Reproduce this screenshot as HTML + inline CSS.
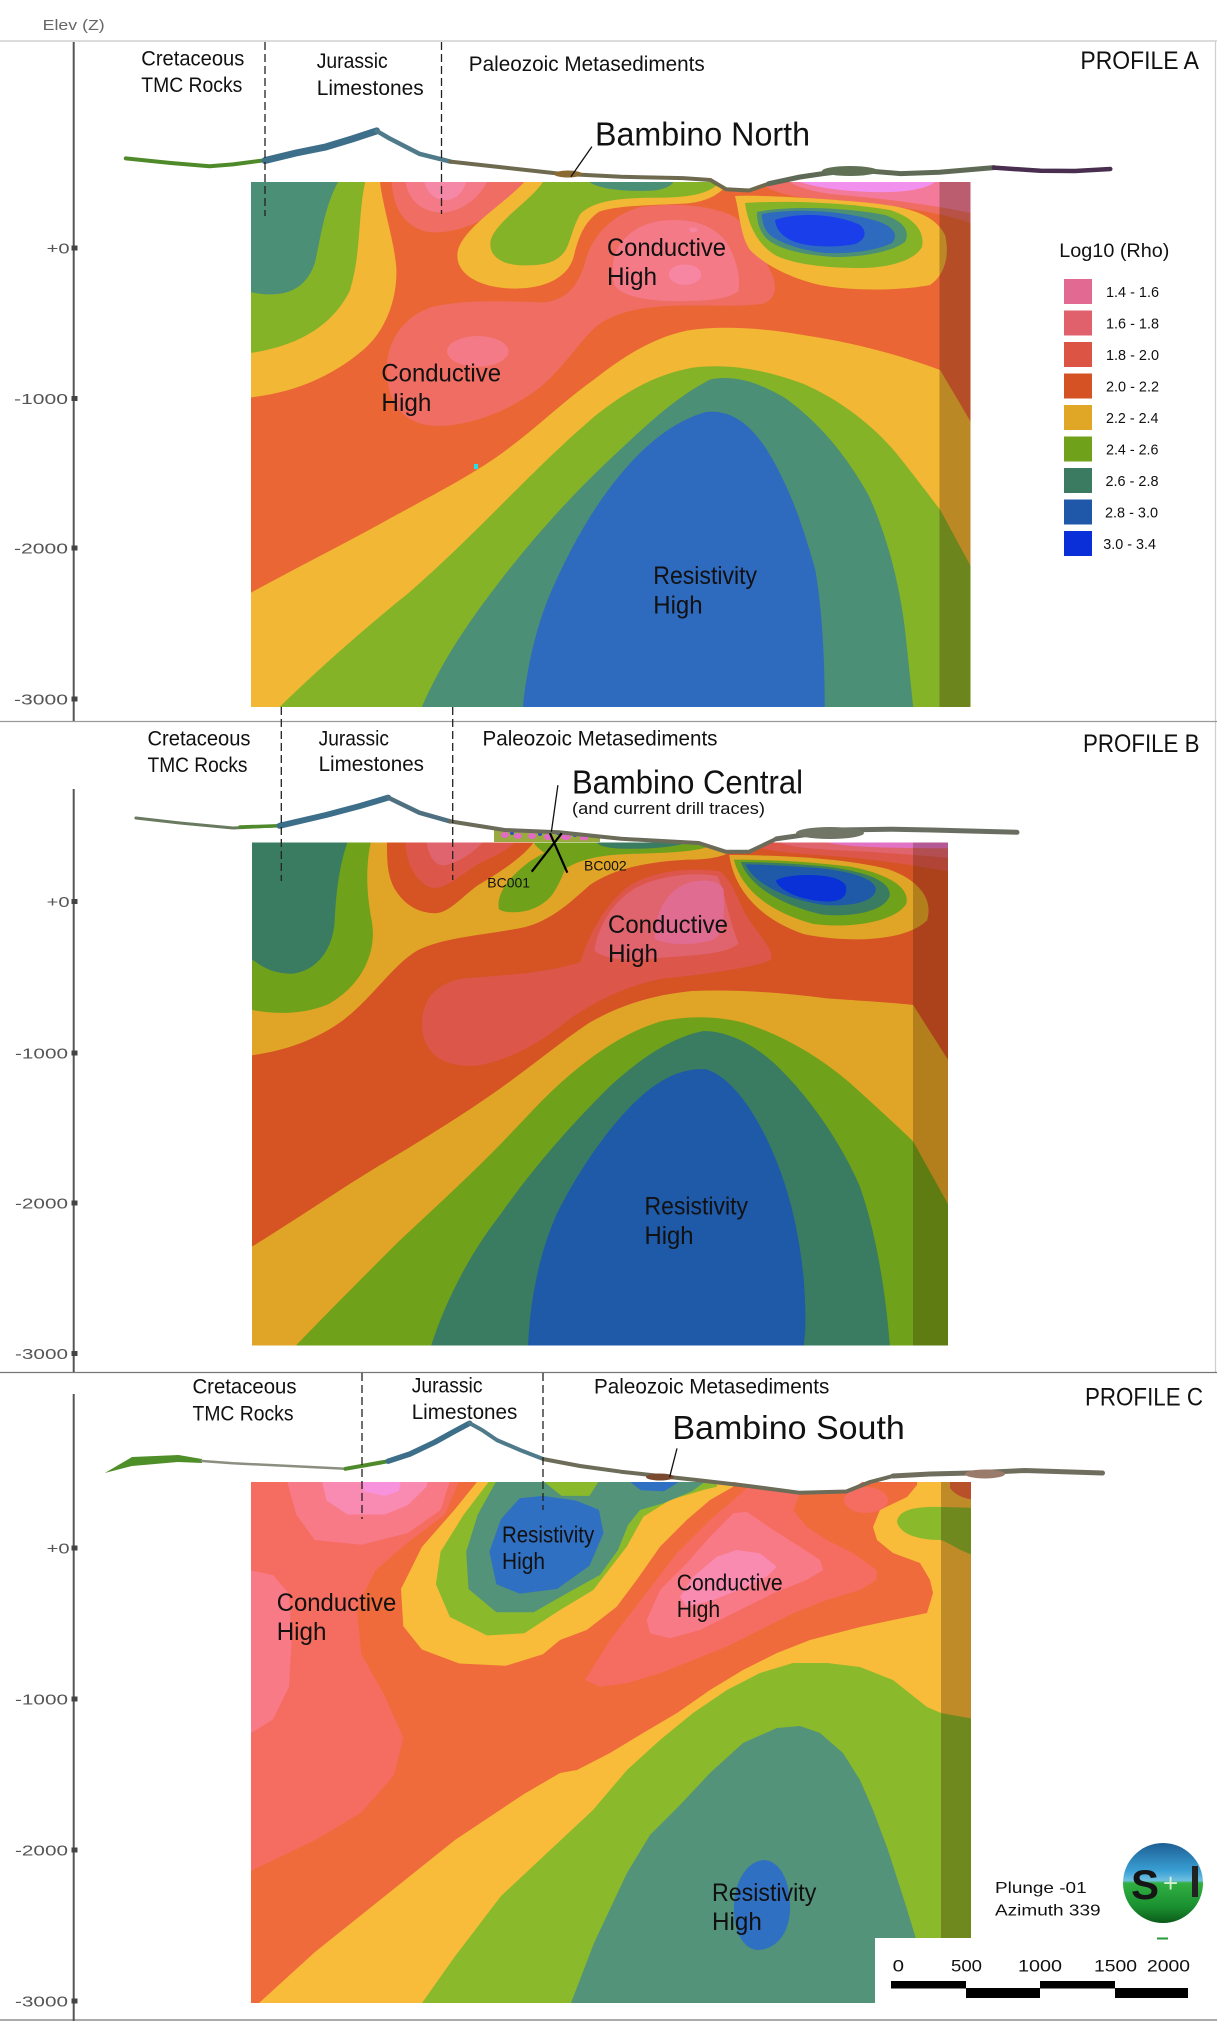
<!DOCTYPE html>
<html><head><meta charset="utf-8"><style>
html,body{margin:0;padding:0;background:#fff;}
svg{display:block;}
text{font-family:"Liberation Sans","DejaVu Sans",sans-serif;}
</style></head><body>
<svg width="1217" height="2021" viewBox="0 0 1217 2021" xmlns="http://www.w3.org/2000/svg">
<defs>
<clipPath id="ca"><rect x="251" y="182" width="719.5" height="525"/></clipPath>
<clipPath id="cb"><rect x="252" y="842.5" width="696" height="503"/></clipPath>
<clipPath id="cc"><rect x="251" y="1482" width="720" height="521"/></clipPath>
<linearGradient id="sph" x1="0" y1="0" x2="0" y2="1">
<stop offset="0" stop-color="#1d5f95"/>
<stop offset="0.35" stop-color="#3aa0d4"/>
<stop offset="0.47" stop-color="#6fc0e0"/>
<stop offset="0.5" stop-color="#32b042"/>
<stop offset="0.8" stop-color="#1a9030"/>
<stop offset="1" stop-color="#0b5a18"/>
</linearGradient>
</defs>
<rect x="0" y="0" width="1217" height="2021" fill="#fff"/>

<!-- header / frame -->
<text x="42.7" y="30" font-size="15" fill="#666" textLength="62" lengthAdjust="spacingAndGlyphs">Elev (Z)</text>
<line x1="0" y1="41" x2="1217" y2="41" stroke="#c8c8c8" stroke-width="1.2"/>
<line x1="1215.5" y1="41" x2="1215.5" y2="1372" stroke="#cfcfcf" stroke-width="1.2"/>
<line x1="0" y1="721.5" x2="1217" y2="721.5" stroke="#9a9a9a" stroke-width="1.2"/>
<line x1="0" y1="1372.5" x2="1217" y2="1372.5" stroke="#777" stroke-width="1.2"/>
<line x1="0" y1="2020" x2="1217" y2="2020" stroke="#777" stroke-width="1.2"/>

<!-- axes -->
<g fill="#555">
<rect x="72.7" y="42" width="2" height="679"/>
<rect x="72.7" y="789" width="2" height="583"/>
<rect x="72.7" y="1394" width="2" height="627"/>
</g>
<g fill="#444">
<rect x="71.5" y="245.5" width="6" height="5"/><rect x="71.5" y="396" width="6" height="5"/><rect x="71.5" y="545.5" width="6" height="5"/><rect x="71.5" y="696.5" width="6" height="5"/>
<rect x="71.5" y="899" width="6" height="5"/><rect x="71.5" y="1050.5" width="6" height="5"/><rect x="71.5" y="1200.5" width="6" height="5"/><rect x="71.5" y="1351" width="6" height="5"/>
<rect x="71.5" y="1545.5" width="6" height="5"/><rect x="71.5" y="1696.5" width="6" height="5"/><rect x="71.5" y="1847.5" width="6" height="5"/><rect x="71.5" y="1998.5" width="6" height="5"/>
</g>
<g font-size="15" fill="#555">
<text x="46.6" y="253.5" textLength="23" lengthAdjust="spacingAndGlyphs">+0</text>
<text x="14" y="404" textLength="54" lengthAdjust="spacingAndGlyphs">-1000</text>
<text x="14" y="553.5" textLength="54" lengthAdjust="spacingAndGlyphs">-2000</text>
<text x="14" y="704.5" textLength="54" lengthAdjust="spacingAndGlyphs">-3000</text>
<text x="46.6" y="907" textLength="23" lengthAdjust="spacingAndGlyphs">+0</text>
<text x="15" y="1058.5" textLength="53" lengthAdjust="spacingAndGlyphs">-1000</text>
<text x="15" y="1208.5" textLength="53" lengthAdjust="spacingAndGlyphs">-2000</text>
<text x="15" y="1359" textLength="53" lengthAdjust="spacingAndGlyphs">-3000</text>
<text x="46.6" y="1553.5" textLength="23" lengthAdjust="spacingAndGlyphs">+0</text>
<text x="15" y="1704.5" textLength="53" lengthAdjust="spacingAndGlyphs">-1000</text>
<text x="15" y="1855.5" textLength="53" lengthAdjust="spacingAndGlyphs">-2000</text>
<text x="15" y="2006.5" textLength="53" lengthAdjust="spacingAndGlyphs">-3000</text>
</g>

<!-- ================= PROFILE A ================= -->
<g clip-path="url(#ca)">
<g transform="translate(245,100) scale(0.4656)">
<rect x="0" y="150" width="1600" height="1200" fill="#EA6735"/>
<path fill="#F2B734" d="M0,150 L290,150 L290,176 C296,230 320,300 325,360 C328,430 300,500 250,540 C190,590 110,630 0,640 Z"/>
<path fill="#85B328" d="M0,150 L258,150 L258,176 C242,250 250,330 225,410 C190,480 120,530 0,545 Z"/>
<path fill="#4B8F76" d="M0,150 L200,150 L200,176 C170,230 162,300 150,350 C130,410 80,430 0,410 Z"/>
<path fill="#EF6D62" d="M315,150 L610,150 L605,176 C590,195 570,215 545,235 C500,268 440,290 390,283 C340,270 318,230 315,176 Z"/>
<path fill="#F37A86" d="M345,150 L520,150 L520,176 C500,215 460,242 420,242 C380,240 350,215 345,176 Z"/>
<path fill="#F588A6" d="M385,150 L475,150 L475,176 C470,195 455,215 430,215 C410,215 390,200 385,176 Z"/>
<path fill="#F2B734" d="M600,150 L1050,150 L1040,176 C1020,205 990,218 950,222 C880,226 800,226 760,240 C725,265 715,300 705,340 C690,385 640,405 580,405 C500,405 445,370 458,320 C475,270 560,220 600,176 Z"/>
<path fill="#85B328" d="M640,150 L1030,150 L1020,176 C1000,200 960,210 880,210 C810,210 750,215 720,245 C705,270 700,300 690,320 C675,345 650,355 610,355 C560,358 520,340 528,300 C540,260 615,215 640,176 Z"/>
<path fill="#4B8F76" d="M740,150 L920,150 L920,176 C915,185 900,193 870,195 C820,197 760,192 740,176 Z"/>
<path fill="#EF6D62" d="M305,590 C300,520 340,465 400,445 C470,428 560,432 640,435 C690,430 715,400 730,350 C745,290 790,245 850,230 C920,220 1000,225 1050,250 C1090,280 1110,330 1130,370 C1145,400 1140,430 1110,438 C1060,445 990,440 920,442 C850,445 790,455 750,490 C710,530 680,580 630,620 C570,665 490,700 410,700 C340,698 308,650 305,590 Z"/>
<path fill="#F37A86" d="M790,360 C790,310 830,270 890,260 C950,252 1000,265 1030,300 C1055,335 1065,380 1060,410 C1040,428 990,432 930,432 C860,432 810,420 795,400 C788,385 790,370 790,360 Z"/>
<ellipse cx="945" cy="375" rx="35" ry="22" fill="#F786A2"/>
<ellipse cx="963" cy="279" rx="9" ry="5" fill="#F786A2"/>
<ellipse cx="500" cy="540" rx="66" ry="33" fill="#F37A86"/>
<path fill="#F2B734" d="M0,1065 C100,1010 200,960 300,905 C400,850 480,810 550,760 C620,710 680,650 750,600 C820,545 880,510 950,495 C1020,485 1100,488 1200,505 C1300,520 1400,545 1493,580 L1558,690 L1600,760 L1600,1350 L0,1350 Z"/>
<path fill="#85B328" d="M60,1350 L75,1303 C150,1230 250,1140 350,1060 C430,990 500,920 560,860 C620,800 680,740 750,680 C820,625 880,590 960,575 C1040,565 1120,580 1200,610 C1280,645 1350,700 1400,760 C1440,810 1470,850 1493,880 L1558,1000 L1600,1080 L1600,1350 Z"/>
<path fill="#4B8F76" d="M360,1350 L380,1303 C420,1210 480,1120 550,1030 C620,940 700,850 780,775 C850,710 920,640 1000,600 C1050,590 1100,605 1160,640 C1230,690 1290,760 1340,850 C1385,950 1410,1060 1420,1160 L1435,1303 L1440,1350 Z"/>
<path fill="#2E6ABD" d="M590,1350 L597,1303 C605,1220 625,1130 660,1050 C700,960 750,870 810,800 C860,740 920,690 990,670 C1040,665 1080,690 1120,750 C1170,830 1200,920 1225,1010 C1240,1100 1245,1200 1245,1303 L1245,1350 Z"/>
</g>
<!-- bubble A (orig coords) -->
<path fill="#EF6D62" d="M760,182 L975,182 L975,225 C945,212 880,203 820,199 C790,197 770,192 760,182 Z"/>
<path fill="#F37A9A" d="M790,182 L975,182 L975,214 C935,205 880,198 830,194 C810,191 795,186 790,182 Z"/>
<path fill="#F290EE" d="M800,182 L935,182 C925,190 900,193 870,192 C840,191 815,187 800,182 Z"/>
<path fill="#F2B734" d="M735,196 C760,195 820,198 870,203 C910,207 935,215 945,235 C950,255 945,275 930,285 C900,291 850,291 820,285 C790,278 765,265 750,250 C740,235 740,215 735,196 Z"/>
<path fill="#85B328" d="M745,203 C790,200 850,203 890,210 C915,218 925,232 922,247 C915,260 890,268 860,268 C820,268 790,263 775,255 C758,245 748,225 745,203 Z"/>
<path fill="#4B8F76" d="M757,212 C790,205 850,208 885,215 C905,222 910,232 905,242 C890,253 860,257 835,257 C800,255 775,248 765,237 C758,228 757,220 757,212 Z"/>
<path fill="#2E6ABD" d="M762,214 C800,207 850,212 880,222 C895,228 898,236 892,243 C875,251 850,254 825,253 C800,250 780,243 770,235 C763,228 762,220 762,214 Z"/>
<path fill="#1A3EEA" d="M775,220 C800,211 840,215 860,225 C868,232 865,240 855,244 C835,248 810,247 795,242 C782,237 776,229 775,220 Z"/>
<rect x="939.5" y="182" width="31" height="525" fill="#2a1000" opacity="0.28"/>
<rect x="474" y="464" width="4" height="5" fill="#22E0E8"/>
</g>

<!-- ================= PROFILE B ================= -->
<g clip-path="url(#cb)">
<g transform="translate(245,720) scale(0.4656)">
<rect x="0" y="240" width="1600" height="1200" fill="#D65324"/>
<path fill="#E0A527" d="M0,240 L1060,240 L1060,263 C1050,290 1010,300 950,300 C860,305 790,320 740,355 C700,390 660,430 600,445 C520,462 430,465 370,495 C310,530 260,620 180,665 C120,700 60,715 0,722 Z"/>
<path fill="#70A11A" d="M0,240 L270,240 L270,263 C258,320 262,380 272,430 C285,500 250,570 180,610 C120,635 60,632 0,620 Z"/>
<path fill="#3A7C62" d="M0,240 L220,240 L220,263 C200,320 195,380 192,440 C185,500 150,540 100,545 C60,545 30,530 0,500 Z"/>
<path fill="#D65324" d="M305,240 L620,240 L620,263 C600,290 560,320 500,355 C460,385 440,412 410,415 C370,415 340,395 320,360 C305,330 305,300 305,263 Z"/>
<path fill="#DC574A" d="M345,240 L578,240 L578,263 C565,280 540,290 500,310 C460,335 430,365 400,360 C370,350 345,310 345,263 Z"/>
<path fill="#E0646E" d="M390,240 L510,240 L510,263 C490,285 460,305 430,312 C410,315 395,295 390,263 Z"/>
<path fill="#70A11A" d="M620,240 L1010,240 L1010,263 C990,285 900,285 820,288 C760,290 720,300 690,318 L650,290 C635,280 625,272 620,263 Z"/>
<path fill="#3A7C62" d="M755,263 L950,263 C920,275 850,278 800,276 C775,274 760,270 755,263 Z"/>
<path fill="#70A11A" d="M545,405 C540,370 570,335 610,305 C640,285 670,270 690,275 C700,300 680,345 660,375 C640,400 610,412 580,413 C560,413 548,410 545,405 Z"/>
<path fill="#DC574A" d="M380,660 C378,600 410,565 470,555 C560,548 640,545 720,520 C740,460 770,400 820,360 C870,325 950,315 1020,325 C1050,345 1060,400 1090,440 C1120,480 1135,500 1130,515 C1100,530 1000,545 900,555 C820,570 760,600 700,640 C640,690 570,730 500,742 C430,748 385,720 380,660 Z"/>
<path fill="#E0646E" d="M750,495 C760,440 790,390 840,360 C890,335 960,325 1015,335 C1030,370 1040,430 1060,480 C1040,500 980,505 900,510 C840,515 780,520 750,495 Z"/>
<path fill="#E06C92" d="M880,470 C880,420 900,370 950,350 C990,340 1020,345 1028,365 C1030,410 1030,450 1010,470 C970,485 910,485 880,470 Z"/>
<path fill="#DC574A" d="M1080,240 L1600,240 L1600,340 C1480,320 1400,305 1300,295 C1200,287 1130,285 1090,270 Z"/>
<path fill="#E0646E" d="M1150,240 L1600,240 L1600,305 C1480,292 1380,285 1280,280 C1200,276 1160,270 1150,263 Z"/>
<path fill="#E272C4" d="M1250,240 L1600,240 L1600,275 C1500,276 1400,276 1330,272 C1290,270 1260,266 1250,263 Z"/>
<path fill="#E0A527" d="M1040,290 C1050,360 1100,425 1200,460 C1300,480 1420,475 1465,430 C1480,380 1440,340 1380,320 C1300,300 1180,290 1040,290 Z"/>
<path fill="#70A11A" d="M1050,300 C1065,360 1120,410 1220,438 C1310,450 1400,430 1420,395 C1430,360 1380,330 1300,315 C1200,303 1120,300 1050,300 Z"/>
<path fill="#3A7C62" d="M1065,305 C1080,350 1140,395 1240,418 C1320,425 1380,405 1385,375 C1385,345 1330,325 1250,315 C1180,308 1110,305 1065,305 Z"/>
<path fill="#1E5AA8" d="M1075,310 C1090,345 1150,385 1250,398 C1320,400 1355,385 1355,362 C1350,340 1300,325 1230,318 C1160,313 1110,310 1075,310 Z"/>
<path fill="#0A30D8" d="M1140,345 C1150,370 1200,388 1250,390 C1285,390 1295,375 1290,355 C1280,338 1240,332 1200,333 C1170,335 1150,338 1140,345 Z"/>
<path fill="#E0A527" d="M0,1140 C100,1080 200,1010 300,950 C400,890 480,840 550,790 C620,740 680,690 740,650 C810,610 880,590 960,582 C1050,578 1150,585 1250,598 C1350,605 1400,608 1435,612 L1510,730 L1600,870 L1600,1400 L0,1400 Z"/>
<path fill="#70A11A" d="M90,1400 L110,1343 C180,1270 250,1200 330,1120 C400,1055 470,990 530,930 C590,870 640,810 700,760 C760,710 820,670 890,648 C950,635 1010,635 1070,650 C1150,675 1230,720 1300,780 C1360,835 1410,880 1435,905 L1510,1040 L1600,1200 L1600,1400 Z"/>
<path fill="#3A7C62" d="M390,1400 L400,1343 C430,1250 480,1150 550,1060 C620,960 700,870 780,790 C850,725 920,680 985,668 C1040,668 1100,700 1150,750 C1220,820 1280,910 1320,1000 C1355,1100 1375,1220 1385,1343 L1390,1400 Z"/>
<path fill="#1E5AA8" d="M600,1400 L608,1343 C612,1250 630,1150 670,1060 C720,960 790,860 860,800 C910,760 950,748 990,750 C1040,765 1090,830 1130,920 C1170,1010 1190,1100 1200,1200 C1205,1270 1205,1310 1200,1343 L1200,1400 Z"/>
</g>
<rect x="913" y="842.5" width="35" height="503" fill="#2a1000" opacity="0.25"/>
</g>

<!-- ================= PROFILE C ================= -->
<g clip-path="url(#cc)">
<rect x="251" y="1470" width="730" height="540" fill="#EF6B3B"/>
<path fill="#F56C61" d="M251,1470 L459,1470 L459,1481 L445,1514.5 L408,1542.4 L375.4,1570.4 L356.7,1607.6 L361.4,1654.2 L384.7,1696 L403.3,1738 L394,1775.2 L361.4,1812.5 L314.8,1840.4 L251,1870.7 Z"/>
<path fill="#F87A86" d="M251,1570.4 L273,1575 L289,1593.6 L291.6,1640.2 L289,1686.8 L273,1719.4 L251,1733.3 Z"/>
<path fill="#F87A86" d="M287,1470 L449.9,1470 L449.9,1481 L440.6,1510 L408,1533 L361.4,1544.8 L314.8,1540.1 L296.2,1514.5 L287,1481 Z"/>
<path fill="#F98BB2" d="M319.5,1470 L429,1470 L426.6,1486.6 L408,1505 L384.7,1514.5 L347.4,1514.5 L326.5,1500.5 Z"/>
<path fill="#F992DC" d="M361.4,1470 L403.3,1470 L398.6,1491.2 L384.7,1495.9 L363.7,1491.2 Z"/>
<path fill="#F8BC3A" d="M255,2010 L259,2003 L315,1952 L385,1896 L455,1840 L524,1794 L560,1773 L577,1770 L610,1753 L643,1733 L677,1713 L710,1690 L743,1670 L777,1653 L810,1640 L860,1627 L893,1620 L927,1613 L933,1593 L930,1580 L920,1563 L893,1553 L877,1540 L873,1527 L880,1510 L907,1497 L917,1485 L918,1470 L980,1470 L980,2010 Z"/>
<path fill="#8AB92C" d="M415,2010 L422,2003 L454.5,1957 L501,1896 L547,1853 L593,1810 L627,1770 L660,1740 L693,1713 L727,1690 L760,1673 L793,1663 L827,1663 L860,1667 L893,1680 L927,1707 L941,1713 L980,1720 L980,2010 Z"/>
<path fill="#52937A" d="M569,2010 L571,2003 L594,1943 L627,1873 L650,1835 L680,1805 L710,1773 L743,1743 L777,1728 L800,1726 L820,1733 L843,1753 L860,1780 L873,1810 L888,1850 L906,1906 L920,1952 L927,2003 L928,2010 Z"/>
<path fill="#3070C2" d="M765,1860 C782,1862 791,1885 790,1910 C789,1935 775,1950 757,1950 C740,1948 733,1925 734,1905 C735,1880 748,1860 765,1860 Z"/>
<path fill="#F56C61" d="M585,1680 L610,1640 L643.3,1596.7 L676.7,1553.3 L710,1520 L733.3,1500 L746.7,1488 L748,1470 L800,1470 L800,1493.3 L793.3,1510 L806.7,1526.7 L826.7,1540 L853.3,1553.3 L876.7,1570 L876.7,1580 L860,1590 L826.7,1600 L793.3,1613.3 L760,1630 L726.7,1646.7 L693.3,1660 L660,1673.3 L626.7,1683.3 L600,1686.7 Z"/>
<path fill="#F87A86" d="M646.7,1620 L660,1590 L686.7,1563.3 L710,1536.7 L733.3,1513.3 L746.7,1511.7 L773.3,1530 L800,1546.7 L820,1560 L823.3,1570 L806.7,1580 L773.3,1593.3 L733.3,1613.3 L700,1630 L670,1638.3 L650,1633.3 Z"/>
<path fill="#F98AB0" d="M680,1596.7 L693.3,1576.7 L716.7,1556.7 L736.7,1550 L760,1553.3 L776.7,1566.7 L766.7,1576.7 L746.7,1586.7 L713.3,1600 L686.7,1606.7 Z"/>
<ellipse cx="866" cy="1500" rx="22" ry="13" fill="#F56C61"/>
<path fill="#EF6B3B" d="M950,1470 L980,1470 L980,1500 C965,1500 955,1495 950,1488 Z"/>
<path fill="#8AB92C" d="M897,1522 C898,1510 915,1506 941,1507 L980,1508 L980,1557 C962,1553 950,1543 941,1540 C915,1540 900,1533 897,1522 Z"/>
<path fill="#F8BC3A" d="M477.8,1470 L477.8,1481 L454.5,1509.8 L421.9,1547 L401,1589 L403.3,1626.2 L421.9,1649.5 L459.2,1663.5 L505.7,1665.8 L543,1654.2 L560,1640 L586.7,1630 L616.7,1606.7 L636.7,1580 L660,1546.7 L686.7,1520 L710,1500 L733.3,1486.7 L738,1470 Z"/>
<path fill="#8AB92C" d="M489.4,1470 L489.4,1481 L463.8,1514.5 L440.6,1551.7 L435.9,1584.3 L449.9,1617 L487,1635.5 L524.4,1633.2 L560,1610 L593.3,1590 L626.7,1546.7 L643.3,1516.7 L670,1500 L703.3,1490 L716.7,1486.7 L720,1470 Z"/>
<path fill="#52937A" d="M496.4,1470 L496.4,1481 L477.8,1514.5 L466.2,1551.7 L468.5,1589 L496.4,1612.3 L533.7,1612.3 L566.3,1593.6 L600,1575 L618,1550 L628,1525 L640,1510 L664,1503 L692,1491.2 L706,1481 L706,1470 Z"/>
<path fill="#8AB92C" d="M543,1470 L543,1481 L561.6,1495.9 L589.5,1495.9 L598.9,1481 L598.9,1470 Z"/>
<path fill="#3070C2" d="M519.7,1498.2 L501,1519.1 L489.4,1551.7 L496.4,1584.3 L519.7,1593.6 L557,1589 L589.5,1565.7 L603.5,1533.1 L598.9,1509.8 L575.6,1500.5 L543,1495.9 Z"/>
<path fill="#3070C2" d="M629,1470 L629,1481 L640.8,1490.3 L664,1491.2 L680.3,1481 L680.3,1470 Z"/>
<rect x="941" y="1482" width="30" height="521" fill="#2a1000" opacity="0.28"/>
</g>
<rect x="875" y="1938" width="342" height="81" fill="#fff"/>

<!-- terrain notches -->
<path fill="#fff" d="M708,181 L726,190 L750,191.5 L768,184 L778,181 Z"/>
<path fill="#fff" d="M696,842 L726,853 L749,853 L772,842 Z"/>
<path fill="#fff" d="M728,1481 L800,1493 L846,1492 L864,1481 Z"/>

<!-- terrain A -->
<g fill="none" stroke-linejoin="round" stroke-linecap="round">
<polyline stroke="#4F8A2A" stroke-width="4" points="125.8,158.4 170.8,163 209.6,166.2 232.9,164.4 267.8,159.8"/>
<polyline stroke="#3E6F8A" stroke-width="7" points="265,160.5 296,153 326,146.9 352,139 376.6,130.9"/>
<polyline stroke="#4F7A8A" stroke-width="4.5" points="376.6,130.9 388.2,137.7 419.3,153.8 450.3,161.6"/>
<polyline stroke="#6E6A50" stroke-width="4" points="450.3,161.6 504.7,167.6 559,173.6 621,176.8 683.2,178.1 710.4,180 726,189.2 749.2,190.5 768.6,183.7"/>
<polyline stroke="#5E6A55" stroke-width="5" points="768.6,183.7 800,177 823,173.6 854,169.9 900.6,173.6 939.4,172.2 993.8,167.6"/>
<polyline stroke="#4A2E50" stroke-width="4.5" points="993.8,167.6 1040.4,170.8 1075,171 1110.3,169"/>
</g>
<ellipse cx="850" cy="171" rx="28" ry="5" fill="#607055"/>
<ellipse cx="568" cy="174" rx="14" ry="3.5" fill="#8A6A30"/>

<!-- terrain B -->
<path fill="#9AAA40" d="M494,828 L530,830 L560,832 L600,836 L600,842 L494,842 Z"/>
<g fill="#E46AC8"><ellipse cx="505" cy="835" rx="4" ry="3"/><ellipse cx="518" cy="836" rx="4" ry="3"/><ellipse cx="532" cy="836" rx="4" ry="3"/><ellipse cx="548" cy="837" rx="4" ry="3"/><ellipse cx="566" cy="837" rx="5" ry="3"/><ellipse cx="584" cy="838" rx="4" ry="2.5"/></g>
<g fill="#3050C0"><circle cx="512" cy="833" r="2"/><circle cx="540" cy="834" r="2"/><circle cx="558" cy="833" r="2"/><circle cx="575" cy="835" r="2"/></g>
<g fill="none" stroke-linejoin="round" stroke-linecap="round">
<polyline stroke="#6A7A60" stroke-width="3" points="135.9,818 180,823 232.9,828 279.5,825.8"/>
<polyline stroke="#4F8A2A" stroke-width="3.5" points="240,827 279.5,825.8"/>
<polyline stroke="#3E6F8A" stroke-width="6" points="279.5,825.8 326,815 360,806 388.2,797.6"/>
<polyline stroke="#4F7080" stroke-width="4.5" points="388.2,797.6 419.3,812.7 450.3,821.4"/>
<polyline stroke="#6B6B5A" stroke-width="4" points="450.3,821.4 504.7,830 559,832.3 621,838.8 698.8,843 726,851.8 749,851.8 776.4,838.8"/>
<polyline stroke="#6A6E62" stroke-width="5" points="776.4,838.8 838.5,830 892.9,829.2 931.7,830 1017,832.3"/>
</g>
<ellipse cx="830" cy="833" rx="34" ry="6" fill="#707565"/>

<!-- terrain C -->
<path fill="#4F8F2A" d="M104.8,1473 L132,1457 L178.6,1455 L201.9,1459 L202,1463 L178,1462 L132,1466 Z"/>
<g fill="none" stroke-linejoin="round" stroke-linecap="round">
<polyline stroke="#8a8f80" stroke-width="2.5" points="201.9,1461 232.9,1463.3 295,1466.2 345.5,1468.8"/>
<polyline stroke="#4F8A2A" stroke-width="4" points="345.5,1468.8 388.2,1461.2"/>
<polyline stroke="#3E6F8A" stroke-width="5.5" points="388.2,1461.2 410,1454 434.8,1442.2 455,1431 469.7,1423.2"/>
<polyline stroke="#4F7A8A" stroke-width="4" points="469.7,1423.2 482,1430 496.9,1440.1 520,1450 543.5,1459.1"/>
<polyline stroke="#6D6C58" stroke-width="4" points="543.5,1459.1 580,1466 621,1471.7 698.8,1480.2 745.3,1485.6 800,1492.8 846.3,1491.5 870,1482 892.9,1476"/>
<polyline stroke="#6F6E5E" stroke-width="5" points="892.9,1476 930,1474 970.5,1473 1024.8,1470.5 1102.5,1473"/>
</g>
<ellipse cx="985" cy="1474" rx="20" ry="4.5" fill="#9A7A6A"/>
<ellipse cx="660" cy="1477" rx="14" ry="3.5" fill="#7A4A30"/>

<!-- dashed lines -->
<g stroke="#222" stroke-width="1.3" stroke-dasharray="8,4" fill="none">
<line x1="265" y1="42" x2="265" y2="216"/>
<line x1="441.5" y1="42" x2="441.5" y2="214"/>
<line x1="281.3" y1="707" x2="281.3" y2="881"/>
<line x1="452.7" y1="707" x2="452.7" y2="880"/>
<line x1="362" y1="1373" x2="362" y2="1519"/>
<line x1="543" y1="1373" x2="543" y2="1510"/>
</g>

<!-- callouts & drill traces -->
<g stroke="#111" stroke-width="1.3">
<line x1="591.9" y1="146.6" x2="570.9" y2="176.8"/>
<line x1="557.9" y1="785.2" x2="551.4" y2="831.7"/>
<line x1="677" y1="1448.4" x2="669.6" y2="1477.2"/>
</g>
<g stroke="#000" stroke-width="2.2">
<line x1="531.7" y1="871.7" x2="561.7" y2="833.3"/>
<line x1="567.3" y1="872.7" x2="550" y2="833.3"/>
</g>

<!-- labels A -->
<g fill="#111">
<text x="141.3" y="65.7" font-size="21" textLength="103" lengthAdjust="spacingAndGlyphs">Cretaceous</text>
<text x="141.3" y="91.8" font-size="21" textLength="101" lengthAdjust="spacingAndGlyphs">TMC Rocks</text>
<text x="316.7" y="68" font-size="21" textLength="71" lengthAdjust="spacingAndGlyphs">Jurassic</text>
<text x="316.7" y="95" font-size="21" textLength="107" lengthAdjust="spacingAndGlyphs">Limestones</text>
<text x="468.8" y="71.2" font-size="21" textLength="236" lengthAdjust="spacingAndGlyphs">Paleozoic Metasediments</text>
<text x="1080.4" y="68.9" font-size="25" textLength="118.6" lengthAdjust="spacingAndGlyphs">PROFILE A</text>
<text x="595" y="145.5" font-size="33" textLength="215" lengthAdjust="spacingAndGlyphs">Bambino North</text>
<text x="607" y="256" font-size="25" textLength="119" lengthAdjust="spacingAndGlyphs">Conductive</text>
<text x="607" y="285" font-size="25" textLength="50" lengthAdjust="spacingAndGlyphs">High</text>
<text x="381.4" y="381.7" font-size="25" textLength="119.6" lengthAdjust="spacingAndGlyphs">Conductive</text>
<text x="381.4" y="411" font-size="25" textLength="50" lengthAdjust="spacingAndGlyphs">High</text>
<text x="653.3" y="584" font-size="25" textLength="103.8" lengthAdjust="spacingAndGlyphs">Resistivity</text>
<text x="653.3" y="613.5" font-size="25" textLength="49.3" lengthAdjust="spacingAndGlyphs">High</text>
</g>

<!-- legend -->
<text x="1059.3" y="257" font-size="19" fill="#111" textLength="110" lengthAdjust="spacingAndGlyphs">Log10 (Rho)</text>
<g>
<rect x="1064" y="279" width="28" height="25" fill="#E26A92"/>
<rect x="1064" y="310.5" width="28" height="25" fill="#E0616C"/>
<rect x="1064" y="342" width="28" height="25" fill="#DC5444"/>
<rect x="1064" y="373.5" width="28" height="25" fill="#D55225"/>
<rect x="1064" y="405" width="28" height="25" fill="#E0A626"/>
<rect x="1064" y="436.5" width="28" height="25" fill="#6FA11B"/>
<rect x="1064" y="468" width="28" height="25" fill="#3A7B62"/>
<rect x="1064" y="499.5" width="28" height="25" fill="#1F58A8"/>
<rect x="1064" y="531" width="28" height="25" fill="#0A2FD8"/>
</g>
<g font-size="15" fill="#111">
<text x="1106" y="296.8" textLength="53" lengthAdjust="spacingAndGlyphs">1.4 - 1.6</text>
<text x="1106" y="328.3" textLength="53" lengthAdjust="spacingAndGlyphs">1.6 - 1.8</text>
<text x="1106" y="359.8" textLength="53" lengthAdjust="spacingAndGlyphs">1.8 - 2.0</text>
<text x="1106" y="391.3" textLength="53" lengthAdjust="spacingAndGlyphs">2.0 - 2.2</text>
<text x="1106" y="422.8" textLength="52.5" lengthAdjust="spacingAndGlyphs">2.2 - 2.4</text>
<text x="1106" y="454.3" textLength="52.5" lengthAdjust="spacingAndGlyphs">2.4 - 2.6</text>
<text x="1105.5" y="485.8" textLength="53" lengthAdjust="spacingAndGlyphs">2.6 - 2.8</text>
<text x="1105" y="517.3" textLength="53" lengthAdjust="spacingAndGlyphs">2.8 - 3.0</text>
<text x="1103.3" y="548.8" textLength="52.7" lengthAdjust="spacingAndGlyphs">3.0 - 3.4</text>
</g>

<!-- labels B -->
<g fill="#111">
<text x="147.5" y="745.5" font-size="21" textLength="103" lengthAdjust="spacingAndGlyphs">Cretaceous</text>
<text x="147.5" y="772" font-size="21" textLength="100" lengthAdjust="spacingAndGlyphs">TMC Rocks</text>
<text x="318.6" y="745.6" font-size="21" textLength="70.4" lengthAdjust="spacingAndGlyphs">Jurassic</text>
<text x="318.6" y="771" font-size="21" textLength="105.4" lengthAdjust="spacingAndGlyphs">Limestones</text>
<text x="482.5" y="745.6" font-size="21" textLength="235" lengthAdjust="spacingAndGlyphs">Paleozoic Metasediments</text>
<text x="1083" y="752" font-size="25" textLength="116.5" lengthAdjust="spacingAndGlyphs">PROFILE B</text>
<text x="572" y="793.6" font-size="33" textLength="231" lengthAdjust="spacingAndGlyphs">Bambino Central</text>
<text x="572" y="814" font-size="17" textLength="193" lengthAdjust="spacingAndGlyphs">(and current drill traces)</text>
<text x="487.3" y="887.3" font-size="14" textLength="42.7" lengthAdjust="spacingAndGlyphs">BC001</text>
<text x="584" y="870.7" font-size="14" textLength="42.7" lengthAdjust="spacingAndGlyphs">BC002</text>
<text x="608" y="933" font-size="25" textLength="120" lengthAdjust="spacingAndGlyphs">Conductive</text>
<text x="608" y="962" font-size="25" textLength="50" lengthAdjust="spacingAndGlyphs">High</text>
<text x="644.5" y="1214.5" font-size="25" textLength="103.5" lengthAdjust="spacingAndGlyphs">Resistivity</text>
<text x="644.5" y="1244" font-size="25" textLength="49" lengthAdjust="spacingAndGlyphs">High</text>
</g>

<!-- labels C -->
<g fill="#111">
<text x="192.5" y="1393.7" font-size="21" textLength="104" lengthAdjust="spacingAndGlyphs">Cretaceous</text>
<text x="192.5" y="1420.3" font-size="21" textLength="101" lengthAdjust="spacingAndGlyphs">TMC Rocks</text>
<text x="411.7" y="1392.5" font-size="21" textLength="70.8" lengthAdjust="spacingAndGlyphs">Jurassic</text>
<text x="411.7" y="1419" font-size="21" textLength="105.7" lengthAdjust="spacingAndGlyphs">Limestones</text>
<text x="594" y="1393.4" font-size="21" textLength="235.3" lengthAdjust="spacingAndGlyphs">Paleozoic Metasediments</text>
<text x="1085" y="1405.5" font-size="25" textLength="118" lengthAdjust="spacingAndGlyphs">PROFILE C</text>
<text x="672.4" y="1439" font-size="33" textLength="232.4" lengthAdjust="spacingAndGlyphs">Bambino South</text>
<text x="502" y="1542.4" font-size="23" textLength="92.2" lengthAdjust="spacingAndGlyphs">Resistivity</text>
<text x="502" y="1569" font-size="23" textLength="43" lengthAdjust="spacingAndGlyphs">High</text>
<text x="276.7" y="1611" font-size="25" textLength="119.6" lengthAdjust="spacingAndGlyphs">Conductive</text>
<text x="276.7" y="1640" font-size="25" textLength="49.8" lengthAdjust="spacingAndGlyphs">High</text>
<text x="676.7" y="1590.4" font-size="23" textLength="106" lengthAdjust="spacingAndGlyphs">Conductive</text>
<text x="676.7" y="1617" font-size="23" textLength="43.5" lengthAdjust="spacingAndGlyphs">High</text>
<text x="712" y="1901" font-size="25" textLength="104.3" lengthAdjust="spacingAndGlyphs">Resistivity</text>
<text x="712" y="1930" font-size="25" textLength="49.8" lengthAdjust="spacingAndGlyphs">High</text>
<text x="995" y="1893" font-size="16" textLength="91.6" lengthAdjust="spacingAndGlyphs">Plunge -01</text>
<text x="995" y="1915.7" font-size="16" textLength="105.6" lengthAdjust="spacingAndGlyphs">Azimuth 339</text>
</g>

<!-- scale bar -->
<g font-size="17" fill="#111">
<text x="892.6" y="1971.3" textLength="11.4" lengthAdjust="spacingAndGlyphs">0</text>
<text x="951" y="1971.3" textLength="31" lengthAdjust="spacingAndGlyphs">500</text>
<text x="1018" y="1971.3" textLength="44" lengthAdjust="spacingAndGlyphs">1000</text>
<text x="1094" y="1971.3" textLength="43" lengthAdjust="spacingAndGlyphs">1500</text>
<text x="1147" y="1971.3" textLength="43" lengthAdjust="spacingAndGlyphs">2000</text>
</g>
<g fill="#000">
<rect x="891" y="1981" width="75" height="7.5"/>
<rect x="966" y="1988" width="74" height="10"/>
<rect x="1040" y="1981" width="75" height="7.5"/>
<rect x="1115" y="1988" width="73" height="10"/>
</g>

<!-- orientation sphere -->
<circle cx="1163" cy="1883" r="40" fill="url(#sph)"/>
<text x="1131" y="1899" font-size="42" font-weight="bold" fill="#151515">S</text>
<text x="1163" y="1892" font-size="26" fill="#d0f0d0">+</text>
<rect x="1192" y="1866" width="6" height="31" fill="#222"/>
<rect x="1157" y="1937.5" width="11" height="2" fill="#2a9a3a"/>
</svg>
</body></html>
